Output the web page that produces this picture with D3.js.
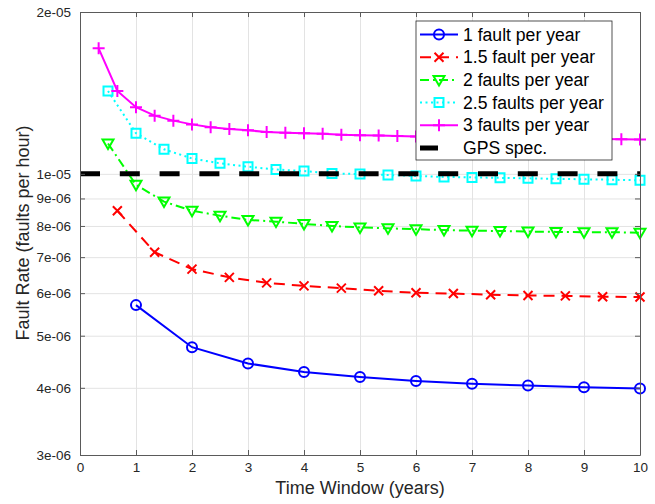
<!DOCTYPE html>
<html>
<head>
<meta charset="utf-8">
<script src="https://cdn.jsdelivr.net/npm/d3@7"></script>
<style>
  body { margin: 0; background: #fff; }
  svg { display: block; font-family: "Liberation Sans", Arial, sans-serif; }
  .tick text { fill: #262626; font-size: 13.5px; }
</style>
</head>
<body>
<svg id="chart" width="655" height="504"></svg>
<script>
// ---- data ----
const xOne = [1, 2, 3, 4, 5, 6, 7, 8, 9, 10];
const yOne = [5.70e-6, 4.76e-6, 4.44e-6, 4.28e-6, 4.19e-6, 4.12e-6, 4.07e-6, 4.04e-6, 4.01e-6, 3.99e-6];

const xOneHalf = [0.667, 1.333, 2, 2.667, 3.333, 4, 4.667, 5.333, 6, 6.667, 7.333, 8, 8.667, 9.333, 10];
const yOneHalf = [8.54e-6, 7.15e-6, 6.65e-6, 6.42e-6, 6.27e-6, 6.19e-6, 6.13e-6, 6.06e-6, 6.01e-6, 5.99e-6,
                  5.96e-6, 5.94e-6, 5.93e-6, 5.91e-6, 5.90e-6];

const xHalfStep = [0.5, 1, 1.5, 2, 2.5, 3, 3.5, 4, 4.5, 5, 5.5, 6, 6.5, 7, 7.5, 8, 8.5, 9, 9.5, 10];
const yTwo = [1.139e-5, 9.54e-6, 8.88e-6, 8.54e-6, 8.36e-6, 8.21e-6, 8.15e-6, 8.07e-6, 8.00e-6, 7.95e-6,
              7.92e-6, 7.89e-6, 7.86e-6, 7.84e-6, 7.83e-6, 7.81e-6, 7.80e-6, 7.79e-6, 7.79e-6, 7.77e-6];
const yTwoHalf = [1.426e-5, 1.19e-5, 1.111e-5, 1.068e-5, 1.046e-5, 1.031e-5, 1.019e-5, 1.012e-5, 1.002e-5, 9.99e-6,
                  9.95e-6, 9.91e-6, 9.87e-6, 9.85e-6, 9.83e-6, 9.81e-6, 9.79e-6, 9.77e-6, 9.75e-6, 9.73e-6];

const xThird = [0.333, 0.667, 1, 1.333, 1.667, 2, 2.333, 2.667, 3, 3.333, 3.667, 4, 4.333, 4.667, 5,
                5.333, 5.667, 6, 6.333, 6.667, 7, 7.333, 7.667, 8, 8.333, 8.667, 9, 9.333, 9.667, 10];
const yThree = [1.712e-5, 1.426e-5, 1.33e-5, 1.283e-5, 1.256e-5, 1.236e-5, 1.221e-5, 1.212e-5, 1.205e-5, 1.196e-5,
                1.193e-5, 1.19e-5, 1.187e-5, 1.182e-5, 1.18e-5, 1.178e-5, 1.176e-5, 1.174e-5, 1.172e-5, 1.171e-5,
                1.169e-5, 1.168e-5, 1.167e-5, 1.165e-5, 1.164e-5, 1.163e-5, 1.162e-5, 1.161e-5, 1.16e-5, 1.159e-5];

const gpsSpec = 1e-5;

const xTicks = [0, 1, 2, 3, 4, 5, 6, 7, 8, 9, 10];
const yTicks = [3e-6, 4e-6, 5e-6, 6e-6, 7e-6, 8e-6, 9e-6, 1e-5, 2e-5];

const labels = ["1 fault per year", "1.5 fault per year", "2 faults per year",
                "2.5 faults per year", "3 faults per year", "GPS spec."];

// ---- layout ----
const svg = d3.select("#chart"),
      margin = { top: 12, right: 15, bottom: 49, left: 80 },
      width = +svg.attr("width") - margin.left - margin.right,
      height = +svg.attr("height") - margin.top - margin.bottom;

const g = svg.append("g")
  .attr("transform", `translate(${margin.left},${margin.top})`);

const x = d3.scaleLinear().domain([0, 10]).range([0, width]);
const y = d3.scaleLog().domain([3e-6, 2e-5]).range([height, 0]);

const fmtY = v => {
  const [m, e] = v.toExponential(0).split("e");
  const sign = e[0] === "-" ? "-" : "+";
  const digits = e.replace(/[-+]/, "").padStart(2, "0");
  return `${m}e${sign}${digits}`;
};

// grid
g.append("g")
  .attr("transform", `translate(0,${height})`)
  .call(d3.axisBottom(x).tickValues(xTicks).tickSize(-height).tickFormat(""))
  .call(a => a.select(".domain").remove())
  .selectAll("line").attr("stroke", "#e3e3e3");

g.append("g")
  .call(d3.axisLeft(y).tickValues(yTicks).tickSize(-width).tickFormat(""))
  .call(a => a.select(".domain").remove())
  .selectAll("line").attr("stroke", "#e3e3e3");

// series definitions
const series = [
  { xs: xOne, ys: yOne, color: "#0000ff", dash: null, marker: "o" },
  { xs: xOneHalf, ys: yOneHalf, color: "#ff0000", dash: "11,7", marker: "x" },
  { xs: xHalfStep, ys: yTwo, color: "#00ff00", dash: "9,4,2,4", marker: "v" },
  { xs: xHalfStep, ys: yTwoHalf, color: "#00ffff", dash: "2,3.5", marker: "s" },
  { xs: xThird, ys: yThree, color: "#ff00ff", dash: null, marker: "+" }
];

function markerPath(type) {
  if (type === "o") return d3.symbol(d3.symbolCircle, Math.PI * 25)();
  if (type === "x") return "M-4.5,-4.5L4.5,4.5M-4.5,4.5L4.5,-4.5";
  if (type === "v") return "M-5.5,-4L5.5,-4L0,5.5Z";
  if (type === "s") return "M-4.5,-4.5H4.5V4.5H-4.5Z";
  if (type === "+") return "M-6,0H6M0,-6V6";
  return "";
}

const line = d3.line().x(d => x(d[0])).y(d => y(d[1]));

series.forEach(s => {
  const pts = s.xs.map((v, i) => [v, s.ys[i]]);
  g.append("path")
    .datum(pts)
    .attr("d", line)
    .attr("fill", "none")
    .attr("stroke", s.color)
    .attr("stroke-width", 2)
    .attr("stroke-dasharray", s.dash);

  g.selectAll(null)
    .data(pts)
    .enter().append("path")
    .attr("transform", d => `translate(${x(d[0])},${y(d[1])})`)
    .attr("d", markerPath(s.marker))
    .attr("fill", "none")
    .attr("stroke", s.color)
    .attr("stroke-width", 2);
});

// GPS spec line
g.append("line")
  .attr("x1", x(0)).attr("x2", x(10))
  .attr("y1", y(gpsSpec)).attr("y2", y(gpsSpec))
  .attr("stroke", "#000")
  .attr("stroke-width", 5)
  .attr("stroke-dasharray", "20,19.8");

// axes (ticks point inward, box around)
const axisColor = "#5a5a5a";
const styleAxis = a => {
  a.select(".domain").attr("stroke", axisColor);
  a.selectAll(".tick line").attr("stroke", axisColor);
};

g.append("g")
  .attr("transform", `translate(0,${height})`)
  .call(d3.axisBottom(x).tickValues(xTicks).tickSizeInner(-5).tickSizeOuter(0).tickPadding(7))
  .call(styleAxis);

g.append("g")
  .call(d3.axisTop(x).tickValues(xTicks).tickSizeInner(-5).tickSizeOuter(0).tickFormat(""))
  .call(styleAxis);

g.append("g")
  .call(d3.axisLeft(y).tickValues(yTicks).tickSizeInner(-5).tickSizeOuter(0).tickPadding(9).tickFormat(fmtY))
  .call(styleAxis);

g.append("g")
  .attr("transform", `translate(${width},0)`)
  .call(d3.axisRight(y).tickValues(yTicks).tickSizeInner(-5).tickSizeOuter(0).tickFormat(""))
  .call(styleAxis);

g.selectAll(".tick text").attr("font-family", null).attr("font-size", null);

// axis labels
g.append("text")
  .attr("x", width / 2)
  .attr("y", height + 39)
  .attr("text-anchor", "middle")
  .attr("font-size", "18px")
  .attr("fill", "#262626")
  .text("Time Window (years)");

g.append("text")
  .attr("transform", "rotate(-90)")
  .attr("x", -221)
  .attr("y", -51)
  .attr("text-anchor", "middle")
  .attr("font-size", "18px")
  .attr("fill", "#262626")
  .text("Fault Rate (faults per hour)");

// legend
const legend = svg.append("g").attr("transform", "translate(416,21)");
legend.append("rect")
  .attr("width", 196).attr("height", 139)
  .attr("fill", "#fff")
  .attr("stroke", "#262626")
  .attr("stroke-width", 0.8);

const legendItems = series.concat([{ color: "#000", dash: "18,30", marker: null, gps: true }]);

legendItems.forEach((s, i) => {
  const cy = 13.5 + i * 22.7;
  legend.append("line")
    .attr("x1", 4).attr("x2", 42)
    .attr("y1", cy).attr("y2", cy)
    .attr("stroke", s.color)
    .attr("stroke-width", s.gps ? 5 : 2)
    .attr("stroke-dasharray", s.dash);
  if (s.marker) {
    legend.append("path")
      .attr("transform", `translate(23,${cy})`)
      .attr("d", markerPath(s.marker))
      .attr("fill", "none")
      .attr("stroke", s.color)
      .attr("stroke-width", 2);
  }
  legend.append("text")
    .attr("x", 47)
    .attr("y", cy + 6)
    .attr("font-size", "17.6px")
    .attr("fill", "#000")
    .text(labels[i]);
});
</script>
</body>
</html>
